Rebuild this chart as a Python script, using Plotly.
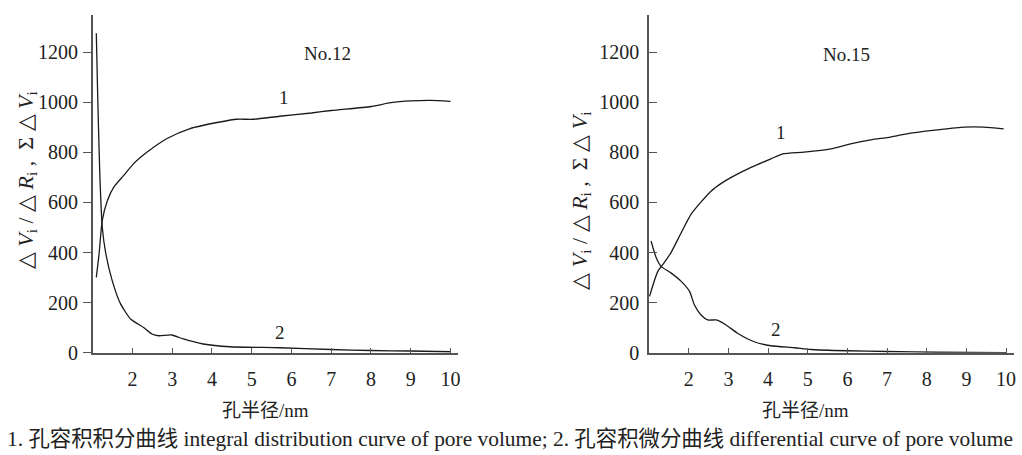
import plotly.graph_objects as go

# ---- data ----
r12_int = [1.09, 1.16, 1.24, 1.37, 1.53, 1.78, 2.03, 2.37, 2.87, 3.45, 4.2, 4.62, 5.03, 5.7, 6.5, 7.0, 8.0, 8.5, 9.0, 9.5, 10.0]
v12_int = [301, 395, 528, 608, 661, 708, 755, 801, 855, 895, 921, 932, 932, 944, 957, 967, 983, 998, 1005, 1007, 1003]

r12_dif = [1.09, 1.12, 1.175, 1.24, 1.33, 1.49, 1.7, 1.95, 2.28, 2.49, 2.66, 2.99, 3.28, 3.78, 4.45, 5.7, 7.0, 8.0, 9.0, 10.0]
v12_dif = [1275, 1061, 728, 501, 395, 288, 195, 135, 101, 75, 68, 71, 55, 35, 24, 20, 13, 9, 7, 4]

r15_int = [1.01, 1.22, 1.39, 1.55, 1.81, 2.06, 2.3, 2.56, 2.81, 3.07, 3.57, 4.07, 4.37, 4.91, 5.58, 6.08, 6.59, 7.09, 7.6, 8.27, 8.94, 9.44, 9.94]
v15_int = [225, 325, 362, 399, 479, 553, 600, 645, 675, 700, 740, 774, 794, 801, 814, 834, 850, 861, 877, 890, 901, 901, 894]

r15_dif = [1.05, 1.18, 1.30, 1.55, 1.81, 2.02, 2.14, 2.31, 2.48, 2.69, 2.94, 3.23, 3.65, 4.07, 4.66, 5.08, 6.0, 7.0, 8.27, 10.0]
v15_dif = [446, 379, 345, 319, 285, 245, 192, 151, 131, 131, 111, 78, 44, 28, 20, 13, 8, 5, 2, 0]

x_ticks = [2, 3, 4, 5, 6, 7, 8, 9, 10]
y_ticks = [0, 200, 400, 600, 800, 1000, 1200]

W = 1022
H = 467          # the captured page comes out about 2.5% shorter than drawn; compensate
SERIF = "Liberation Serif"
MIXED = "Liberation Serif, Noto Sans CJK SC"
LINE = dict(color="#1a1a1a", width=1.3)

fig = go.Figure()
fig.add_trace(go.Scatter(x=r12_int, y=v12_int, mode="lines", line=dict(**LINE, shape="spline", smoothing=0.6), xaxis="x", yaxis="y"))
fig.add_trace(go.Scatter(x=r12_dif, y=v12_dif, mode="lines", line=dict(**LINE, shape="spline", smoothing=0.5), xaxis="x", yaxis="y"))
fig.add_trace(go.Scatter(x=r15_int, y=v15_int, mode="lines", line=dict(**LINE, shape="spline", smoothing=0.6), xaxis="x2", yaxis="y2"))
fig.add_trace(go.Scatter(x=r15_dif, y=v15_dif, mode="lines", line=dict(**LINE, shape="spline", smoothing=0.6), xaxis="x2", yaxis="y2"))

def px_x(p):
    return p / W

def px_y(p):
    return 1 - p / 455.0   # positions measured on the 455px-tall reference

ydom = [px_y(352), px_y(15)]
axis_common = dict(showgrid=False, zeroline=False, showline=True, linecolor="#555", linewidth=1.5,
                   tickcolor="#555", tickwidth=1.2,
                   tickfont=dict(family=SERIF, size=20, color="#222"))

fig.update_layout(
    width=W, height=H, showlegend=False,
    margin=dict(l=0, r=0, t=0, b=0),
    paper_bgcolor="white", plot_bgcolor="white",
    xaxis=dict(domain=[px_x(93), px_x(459)], range=[1.0, 10.18], tickvals=x_ticks, ticks="inside", ticklen=5,
               anchor="y", ticklabelstandoff=7, **axis_common),
    yaxis=dict(domain=ydom, range=[0, 1348], tickvals=y_ticks, ticks="outside", ticklen=8,
               anchor="x", ticklabelstandoff=1, **axis_common),
    xaxis2=dict(domain=[px_x(651), px_x(1017)], range=[1.0, 10.2], tickvals=x_ticks, ticks="inside", ticklen=5,
                anchor="y2", ticklabelstandoff=7, **axis_common),
    yaxis2=dict(domain=ydom, range=[0, 1348], tickvals=y_ticks, ticks="inside", ticklen=8,
                anchor="x2", ticklabelstandoff=4, **axis_common),
)

ytitle = "△ <i>V</i><sub>i</sub> / △ <i>R</i><sub>i</sub> ,  Σ △ <i>V</i><sub>i</sub>"

def ann(x, y, text, size=19, family=SERIF, angle=0):
    fig.add_annotation(x=px_x(x), y=px_y(y), xref="paper", yref="paper", text=text, showarrow=False,
                       textangle=angle, font=dict(family=family, size=size, color="#222"),
                       xanchor="center", yanchor="middle")

ann(27, 180, ytitle, size=22, angle=-90)
ann(583, 200, ytitle, size=22, angle=-90)
ann(328, 53, "No.12", size=19)
ann(849, 54, "No.15", size=19)
ann(285, 97, "1", size=19)
ann(281, 332, "2", size=19)
ann(783, 132, "1", size=19)
ann(778, 329, "2", size=19)
ann(266, 410, "孔半径/nm", size=19, family=MIXED)
ann(808, 410, "孔半径/nm", size=19, family=MIXED)
ann(511, 438, "1. 孔容积积分曲线 integral distribution curve of pore volume; 2. 孔容积微分曲线 differential curve of pore volume",
    size=21.4, family=MIXED)

# remove the page's default 8px body margin so the figure sits at the window's top-left corner
fig.write_html("out.html", config={"displayModeBar": False},
               post_script="document.body.style.margin='0px';")
